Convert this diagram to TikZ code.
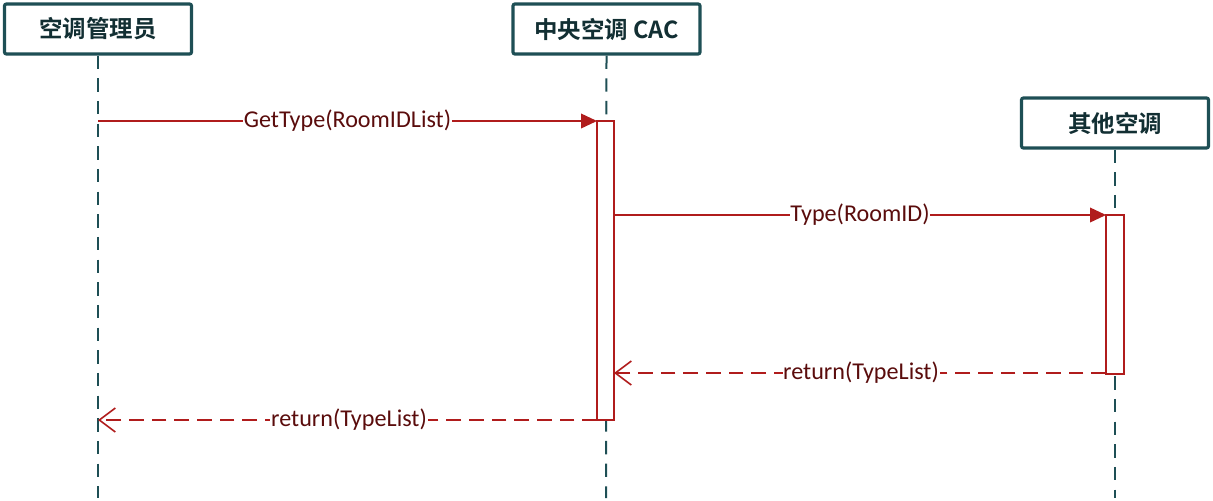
\documentclass[tikz,border=0pt]{standalone}
\usepackage{fontspec}
\setmainfont{Carlito}
\newfontfamily\cjk{Noto Sans CJK SC}[BoldFont={Noto Sans CJK SC Bold}]
\usetikzlibrary{arrows.meta}
\definecolor{teal}{HTML}{1E4F55}
\definecolor{msgred}{HTML}{B01C1C}
\definecolor{lbl}{HTML}{5A0C0C}
\tikzset{
  actor/.style={draw=teal, line width=2.4pt, rounded corners=1.5pt, fill=white, inner sep=0pt,
    minimum width=187\pxu, minimum height=50\pxu, font=\cjk\bfseries\fontsize{17.6pt}{20pt}\selectfont, text=teal!60!black},
  lifeline/.style={draw=teal, line width=1.5pt, dash pattern=on 10pt off 7pt},
  actbox/.style={draw=msgred, line width=1.2pt, fill=white},
  syncmsg/.style={draw=msgred, line width=1.2pt, -{Triangle[length=12pt,width=11pt]}},
  retmsg/.style={draw=msgred, line width=1.2pt, dash pattern=on 11pt off 6pt, -{Straight Barb[length=12pt,width=18pt,line width=1.2pt]}},
  msglabel/.style={fill=white, inner sep=0.5pt, text=lbl, font=\fontsize{18.1pt}{21pt}\selectfont},
}
\newlength{\pxu}\setlength{\pxu}{0.75pt}
\begin{document}
\begin{tikzpicture}[x=0.75pt,y=-0.75pt]
\useasboundingbox (0,0) rectangle (1213,500);
% actors
\node[actor] (a1) at (98,29) {空调管理员};
\node[actor] (a2) at (606.5,29) {中央空调 CAC};
\node[actor] (a3) at (1115,123) {其他空调};
% lifeline ends
\coordinate (e1) at (98,498);
\coordinate (e2) at (606,498);
\coordinate (e3) at (1115,498);
\draw[lifeline] (a1.south) -- (e1);
\draw[lifeline] (a2.south) -- (e2);
\draw[lifeline] (a3.south) -- (e3);
% activation boxes
\draw[actbox] (597,121) rectangle (614,420);
\draw[actbox] (1106,215) rectangle (1124,374);
\coordinate (m1s) at (98,121);  \coordinate (m1e) at (597,121);
\coordinate (m2s) at (614,215); \coordinate (m2e) at (1106,215);
\coordinate (m3s) at (1106,373); \coordinate (m3e) at (614,373);
\coordinate (m4s) at (597,420); \coordinate (m4e) at (98,420);
\draw[syncmsg] (m1s) -- (m1e);
\draw[syncmsg] (m2s) -- (m2e);
\draw[retmsg] (m3s) -- (m3e);
\draw[retmsg] (m4s) -- (m4e);
\node[msglabel] (l1) at (347.5,121) {GetType(RoomIDList)};
\node[msglabel] (l2) at (860,215) {Type(RoomID)};
\node[msglabel] (l3) at (861,373) {return(TypeList)};
\node[msglabel] (l4) at (349,420) {return(TypeList)};
\end{tikzpicture}
\end{document}
